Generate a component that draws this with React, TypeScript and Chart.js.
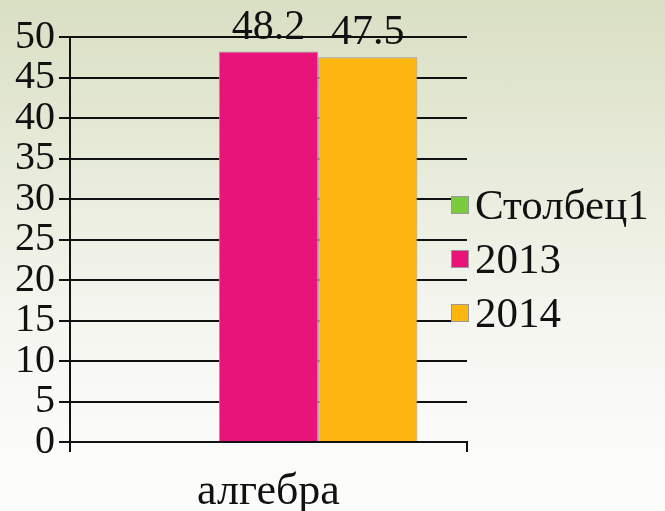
import React, { useEffect, useRef } from "react";
import { Chart, registerables } from "chart.js";

Chart.register(...registerables);

const categories = ["алгебра"];
const seriesLabels = ["Столбец1", "2013", "2014"];
const seriesColumn1: (number | null)[] = [null];
const series2013 = [48.2];
const series2014 = [47.5];
const seriesColors = ["#7dcb3c", "#e8147a", "#fdb50f"];
const yTicks = [0, 5, 10, 15, 20, 25, 30, 35, 40, 45, 50];

const FONT = "'Liberation Serif', 'DejaVu Serif', serif";

const valueLabels = {
  id: "valueLabels",
  afterDatasetsDraw(chart: any) {
    const ctx = chart.ctx;
    ctx.save();
    ctx.font = `42px ${FONT}`;
    ctx.fillStyle = "#111";
    ctx.textAlign = "center";
    ctx.textBaseline = "alphabetic";
    chart.data.datasets.forEach((ds: any, i: number) => {
      const meta = chart.getDatasetMeta(i);
      meta.data.forEach((el: any, j: number) => {
        const v = ds.data[j];
        if (v == null) return;
        ctx.fillText(String(v), el.x, el.y - 13);
      });
    });
    ctx.restore();
  },
};

const customLegend = {
  id: "customLegend",
  afterDraw(chart: any) {
    const ctx = chart.ctx;
    ctx.save();
    ctx.font = `43px ${FONT}`;
    ctx.textBaseline = "middle";
    ctx.textAlign = "left";
    const x0 = chart.chartArea.right - 16;
    const yStart = 205;
    const step = 54;
    chart.data.datasets.forEach((ds: any, i: number) => {
      const y = yStart + i * step;
      ctx.fillStyle = ds.backgroundColor;
      ctx.fillRect(x0, y - 9, 18, 18);
      ctx.strokeStyle = "#999";
      ctx.lineWidth = 1;
      ctx.strokeRect(x0 + 0.5, y - 8.5, 17, 17);
      ctx.fillStyle = "#111";
      ctx.fillText(ds.label, x0 + 24, y + 3);
    });
    ctx.restore();
  },
};

export default function App() {
  const ref = useRef<HTMLCanvasElement | null>(null);
  useEffect(() => {
    if (!ref.current) return;
    const chart = new Chart(ref.current, {
      type: "bar",
      data: {
        labels: categories,
        datasets: [
          { label: seriesLabels[0], data: seriesColumn1, backgroundColor: seriesColors[0], borderColor: "#999", borderWidth: 1 },
          { label: seriesLabels[1], data: series2013, backgroundColor: seriesColors[1], borderColor: "#999", borderWidth: 1 },
          { label: seriesLabels[2], data: series2014, backgroundColor: seriesColors[2], borderColor: "#999", borderWidth: 1 },
        ],
      },
      options: {
        responsive: false,
        animation: false,
        devicePixelRatio: 1,
        categoryPercentage: 0.75,
        barPercentage: 1.0,
        layout: { padding: { left: 0, right: 198, top: 37, bottom: 0 } },
        plugins: {
          legend: { display: false },
          tooltip: { enabled: false },
        },
        scales: {
          x: {
            afterFit: (s: any) => { s.height = 69; },
            grid: {
              offset: true,
              drawOnChartArea: false,
              drawTicks: true,
              tickLength: 10,
              color: "#111",
              lineWidth: 2,
            },
            border: { display: true, color: "#111", width: 2 },
            ticks: { color: "#111", font: { family: FONT, size: 44 }, padding: 14 },
          },
          y: {
            min: 0,
            max: 50,
            afterFit: (s: any) => { s.width = 70; },
            afterBuildTicks: (s: any) => { s.ticks = yTicks.map((v) => ({ value: v })); },
            grid: { color: "#111", lineWidth: 2, tickLength: 11 },
            border: { display: true, color: "#111", width: 2 },
            ticks: { color: "#111", font: { family: FONT, size: 40 }, padding: 4, autoSkip: false },
          },
        },
      } as any,
      plugins: [valueLabels, customLegend],
    });
    return () => chart.destroy();
  }, []);
  return (
    <div
      style={{
        position: "fixed",
        left: 0,
        top: 0,
        width: 665,
        height: 511,
        background: "linear-gradient(180deg, #d9dfc3 0%, #e6ead8 30%, #f4f5ee 60%, #fbfbf9 85%, #fcfcfb 100%)",
      }}
    >
      <canvas ref={ref} width={665} height={511} />
    </div>
  );
}
